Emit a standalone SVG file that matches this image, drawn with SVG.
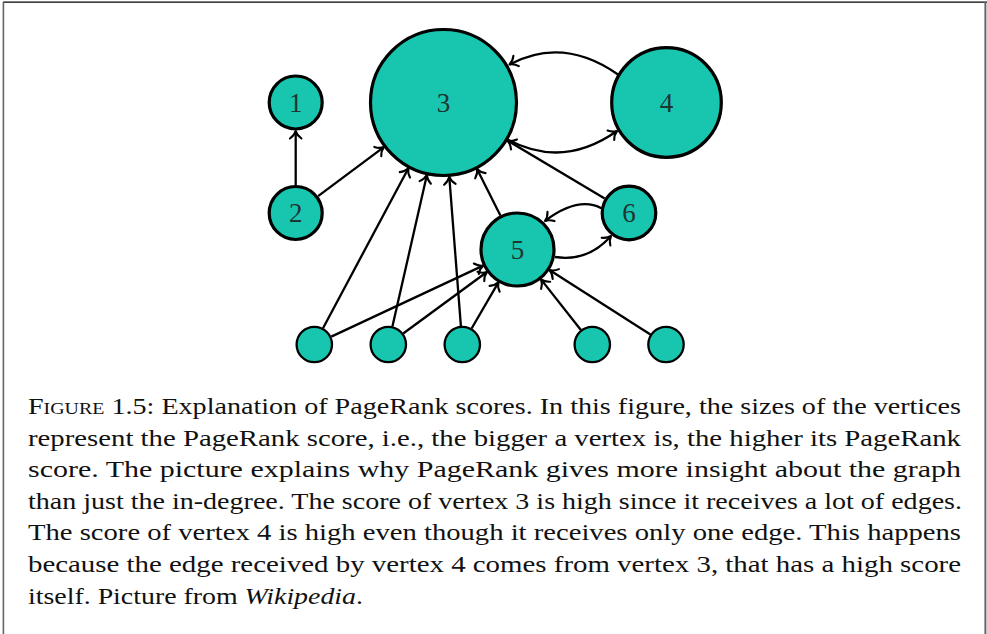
<svg xmlns="http://www.w3.org/2000/svg" width="987" height="634" viewBox="0 0 987 634">
  <style>
    .node { fill: #18c6b0; stroke: #000; stroke-width: 3.2; }
    .leaf { fill: #18c6b0; stroke: #000; stroke-width: 2.3; }
    .lbl { font-family: "Liberation Serif", "Times New Roman", Times, serif; font-size: 27px; fill: #1e3532; text-anchor: middle; }
    .edge { fill: none; stroke: #000; stroke-width: 2.3; marker-end: url(#tip); }
    .cap { font-family: "Liberation Serif", "Times New Roman", Times, serif; font-size: 24px; fill: #111; }
  </style>
  <defs>
    <marker id="tip" markerUnits="userSpaceOnUse" viewBox="-9 -7 11 14" markerWidth="11" markerHeight="14" refX="0" refY="0" orient="auto" overflow="visible">
      <path d="M-7.5,-5.8 C-5.2,-2.5 -2,-0.6 0,0 C-2,0.6 -5.2,2.5 -7.5,5.8" fill="none" stroke="#000" stroke-width="2.1" stroke-linecap="round" stroke-linejoin="round"/>
    </marker>
  </defs>

  <rect width="987" height="634" fill="#fff"/>

  <!-- frame: top rule plus both side rules -->
  <g id="frame" fill="none">
    <line x1="3" y1="2.2" x2="987" y2="2.2" stroke="#000" stroke-width="1.2"/>
    <line x1="3.4" y1="2" x2="3.4" y2="634" stroke="#666" stroke-width="1.6"/>
    <line x1="985.4" y1="2" x2="985.4" y2="634" stroke="#666" stroke-width="2"/>
  </g>

  <!-- connectors -->
  <g id="edges">
    <line class="edge" x1="295.7" y1="185" x2="295.7" y2="131"/>
    <line class="edge" x1="318.1" y1="196.2" x2="383.8" y2="147.1"/>
    <line class="edge" x1="323" y1="328.2" x2="408.4" y2="168.2"/>
    <line class="edge" x1="331.3" y1="336.6" x2="483.1" y2="265.6"/>
    <line class="edge" x1="392.4" y1="326.5" x2="426.9" y2="175.1"/>
    <line class="edge" x1="403.2" y1="333.5" x2="486.9" y2="272"/>
    <line class="edge" x1="460.9" y1="326.1" x2="449.3" y2="176.8"/>
    <line class="edge" x1="471.6" y1="328.5" x2="498.4" y2="282.3"/>
    <line class="edge" x1="580.9" y1="330" x2="541" y2="279.4"/>
    <line class="edge" x1="650.4" y1="334.5" x2="549.5" y2="270"/>
    <line class="edge" x1="500.4" y1="215.6" x2="477" y2="169"/>
    <line class="edge" x1="604.7" y1="198.5" x2="507.5" y2="140.6"/>
    <path class="edge" d="M508,139.8 Q563,169 617,131"/>
    <path class="edge" d="M618,74.5 Q563,36 509.5,64.5"/>
    <path class="edge" d="M601.4,208.2 Q578,196 545,221"/>
    <path class="edge" d="M555,257 Q588,262 611,236"/>
  </g>

  <!-- vertices -->
  <g id="v1"><circle class="node" cx="295.7" cy="102.5" r="26.5"/><text class="lbl" x="295.7" y="111.7">1</text></g>
  <g id="v2"><circle class="node" cx="295.7" cy="213" r="26.5"/><text class="lbl" x="295.7" y="222.2">2</text></g>
  <g id="v3"><circle class="node" cx="443.5" cy="102.5" r="73"/><text class="lbl" x="443.5" y="111.7">3</text></g>
  <g id="v4"><circle class="node" cx="666.5" cy="102.5" r="54.8"/><text class="lbl" x="666.5" y="111.7">4</text></g>
  <g id="v5"><circle class="node" cx="517.5" cy="249.5" r="36.5"/><text class="lbl" x="517.5" y="258.7">5</text></g>
  <g id="v6"><circle class="node" cx="629" cy="213" r="26.8"/><text class="lbl" x="629" y="222.2">6</text></g>
  <g id="b1"><circle class="leaf" cx="314.3" cy="344.5" r="17.7"/></g>
  <g id="b2"><circle class="leaf" cx="388.3" cy="344.5" r="17.7"/></g>
  <g id="b3"><circle class="leaf" cx="462.3" cy="344.5" r="17.7"/></g>
  <g id="b4"><circle class="leaf" cx="592.3" cy="344.5" r="17.7"/></g>
  <g id="b5"><circle class="leaf" cx="666" cy="344.5" r="17.7"/></g>

  <!-- caption, justified lines -->
  <g id="caption" class="cap">
    <text x="28" y="414" textLength="933" lengthAdjust="spacingAndGlyphs"><tspan font-variant="small-caps">Figure</tspan> 1.5: Explanation of PageRank scores. In this figure, the sizes of the vertices</text>
    <text x="28" y="445.6" textLength="933" lengthAdjust="spacingAndGlyphs">represent the PageRank score, i.e., the bigger a vertex is, the higher its PageRank</text>
    <text x="28" y="477.2" textLength="933" lengthAdjust="spacingAndGlyphs">score.  The picture explains why PageRank gives more insight about the graph</text>
    <text x="28" y="508.8" textLength="934" lengthAdjust="spacingAndGlyphs">than just the in-degree. The score of vertex 3 is high since it receives a lot of edges.</text>
    <text x="28" y="540.4" textLength="933" lengthAdjust="spacingAndGlyphs">The score of vertex 4 is high even though it receives only one edge. This happens</text>
    <text x="28" y="572" textLength="933" lengthAdjust="spacingAndGlyphs">because the edge received by vertex 4 comes from vertex 3, that has a high score</text>
    <text x="28" y="603.6" textLength="335" lengthAdjust="spacingAndGlyphs">itself. Picture from <tspan font-style="italic">Wikipedia</tspan>.</text>
  </g>
</svg>
